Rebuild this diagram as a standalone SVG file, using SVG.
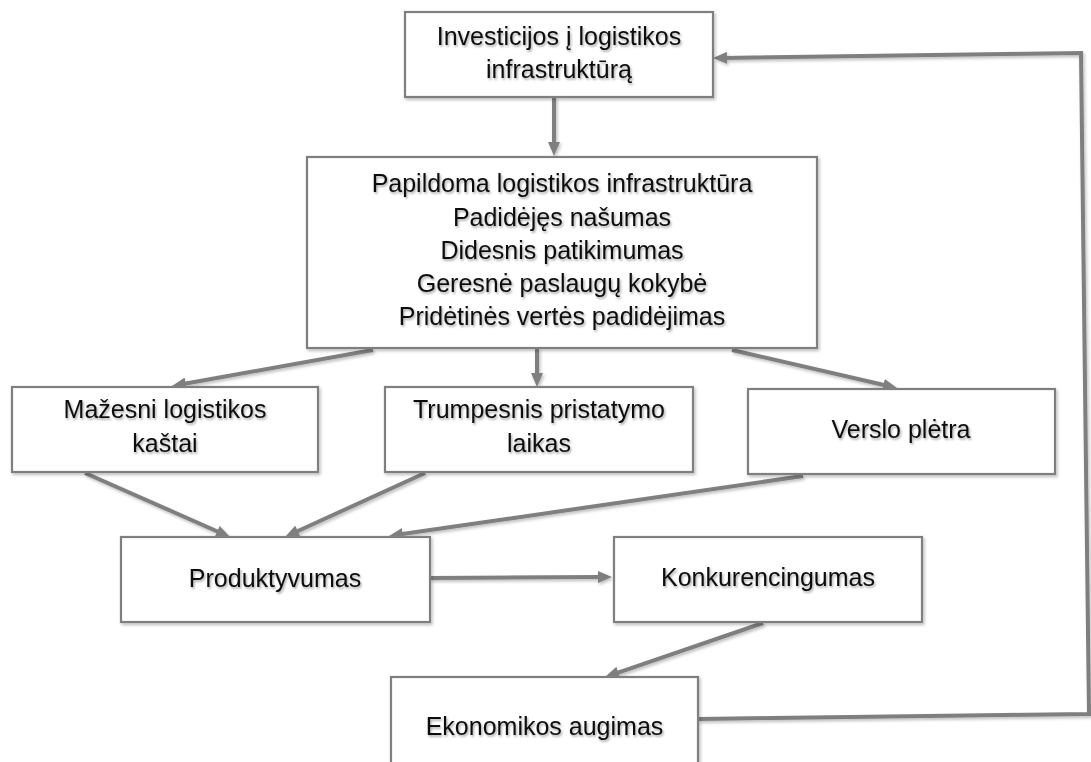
<svg xmlns="http://www.w3.org/2000/svg" width="1091" height="762" viewBox="0 0 1091 762">
  <defs>
    <style>
      .box { fill: #ffffff; stroke: #7f7f7f; stroke-width: 2.2; }
      .lbl { font-family: "Liberation Sans", Arial, sans-serif; font-size: 25px; fill: #111111; text-anchor: middle; }
      .con { fill: none; stroke: #7f7f7f; stroke-width: 4; stroke-linejoin: miter; }
    </style>
    <marker id="ah" viewBox="0 0 14 12" refX="4" refY="6" markerWidth="14" markerHeight="12" markerUnits="userSpaceOnUse" orient="auto">
      <path d="M0,0 L14,6 L0,12 z" fill="#7f7f7f"/>
    </marker>
    <filter id="soft" x="-10%" y="-10%" width="130%" height="130%">
      <feDropShadow dx="1.5" dy="2" stdDeviation="1.5" flood-color="#000" flood-opacity="0.25"/>
    </filter>
    <filter id="txt" x="-5%" y="-20%" width="115%" height="160%">
      <feDropShadow dx="1.2" dy="1.8" stdDeviation="1.3" flood-color="#000" flood-opacity="0.35"/>
    </filter>
  </defs>

  <rect width="1091" height="762" fill="#ffffff"/>

  <!-- connectors -->
  <g id="connectors" class="con" filter="url(#soft)">
    <line x1="554" y1="97" x2="554" y2="146" marker-end="url(#ah)"/>
    <line x1="373" y1="350" x2="181.8" y2="384.2" marker-end="url(#ah)"/>
    <line x1="537" y1="348" x2="537" y2="377" marker-end="url(#ah)"/>
    <line x1="732" y1="350" x2="887.3" y2="385.8" marker-end="url(#ah)"/>
    <line x1="85" y1="473" x2="220.9" y2="533" marker-end="url(#ah)"/>
    <line x1="425" y1="473" x2="294.1" y2="532.8" marker-end="url(#ah)"/>
    <line x1="803" y1="476" x2="398.9" y2="534.6" marker-end="url(#ah)"/>
    <line x1="430" y1="578" x2="602" y2="577" marker-end="url(#ah)"/>
    <line x1="763" y1="623" x2="614.5" y2="673.8" marker-end="url(#ah)"/>
    <polyline points="698,719 1089,714 1081,53 723,57.9" marker-end="url(#ah)"/>
  </g>

  <!-- nodes -->
  <g id="n-investicijos">
    <rect class="box" x="405" y="12" width="308" height="85" filter="url(#soft)"/>
    <g class="lbl" filter="url(#txt)">
      <text x="559" y="45">Investicijos į logistikos</text>
      <text x="559" y="78">infrastruktūrą</text>
    </g>
  </g>

  <g id="n-poveikis">
    <rect class="box" x="307" y="157" width="510" height="191" filter="url(#soft)"/>
    <g class="lbl" filter="url(#txt)">
      <text x="562" y="192">Papildoma logistikos infrastruktūra</text>
      <text x="562" y="225.5">Padidėjęs našumas</text>
      <text x="562" y="258.5">Didesnis patikimumas</text>
      <text x="562" y="292">Geresnė paslaugų kokybė</text>
      <text x="562" y="325">Pridėtinės vertės padidėjimas</text>
    </g>
  </g>

  <g id="n-kastai">
    <rect class="box" x="12" y="387" width="306" height="85" filter="url(#soft)"/>
    <g class="lbl" filter="url(#txt)">
      <text x="165" y="418">Mažesni logistikos</text>
      <text x="165" y="452">kaštai</text>
    </g>
  </g>

  <g id="n-pristatymas">
    <rect class="box" x="385" y="387" width="308" height="85" filter="url(#soft)"/>
    <g class="lbl" filter="url(#txt)">
      <text x="539" y="418">Trumpesnis pristatymo</text>
      <text x="539" y="452">laikas</text>
    </g>
  </g>

  <g id="n-verslas">
    <rect class="box" x="748" y="389" width="307" height="85" filter="url(#soft)"/>
    <text class="lbl" x="901" y="438" filter="url(#txt)">Verslo plėtra</text>
  </g>

  <g id="n-produktyvumas">
    <rect class="box" x="121" y="537" width="309" height="85" filter="url(#soft)"/>
    <text class="lbl" x="275" y="587" filter="url(#txt)">Produktyvumas</text>
  </g>

  <g id="n-konkurencingumas">
    <rect class="box" x="614" y="537" width="308" height="85" filter="url(#soft)"/>
    <text class="lbl" x="768" y="586" filter="url(#txt)">Konkurencingumas</text>
  </g>

  <g id="n-augimas">
    <rect class="box" x="391" y="677" width="307" height="110" filter="url(#soft)"/>
    <text class="lbl" x="544.5" y="735" filter="url(#txt)">Ekonomikos augimas</text>
  </g>
</svg>
